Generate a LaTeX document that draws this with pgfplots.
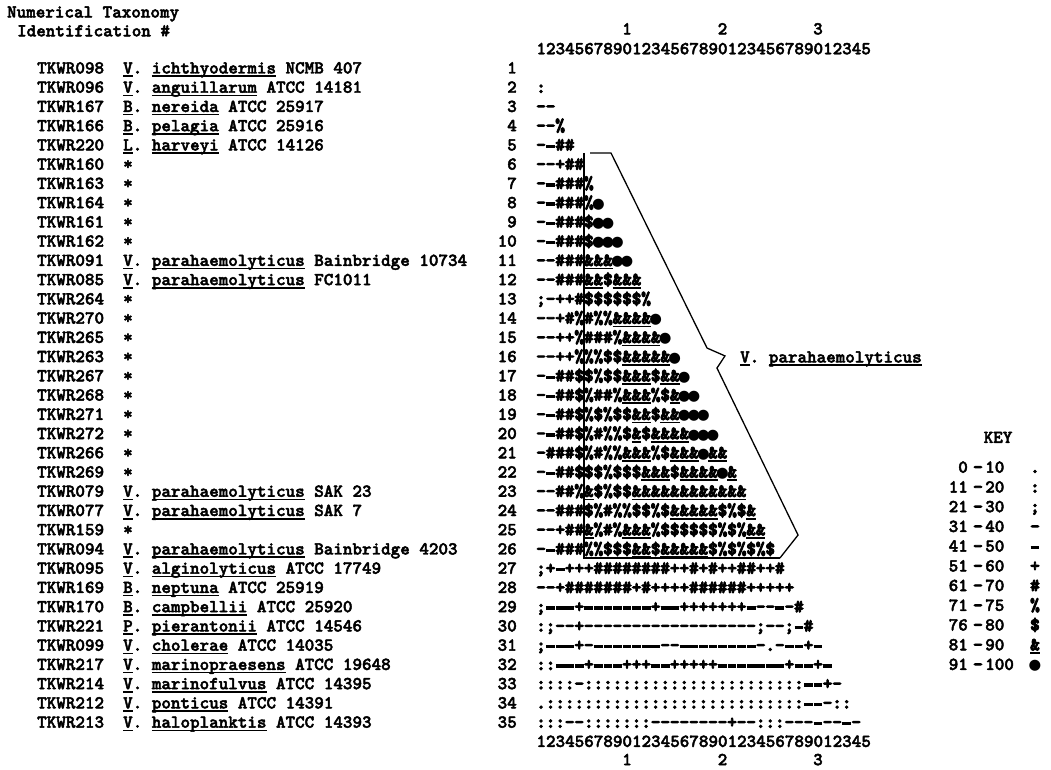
\documentclass[border=0pt]{standalone}
\usepackage{fontspec}
\usepackage{pgfplots}
\pgfplotsset{compat=1.18}
\newfontfamily\tw{lmmonolt10-bold.otf}[FakeBold=2.5]
\newfontfamily\twk{lmmonolt10-bold.otf}[FakeBold=5]
\newfontfamily\dv{DejaVu Sans}
\newcommand\twsize{\fontsize{18.2}{20}\selectfont}

\newlength\ulw
\newcommand\ul[1]{\settowidth\ulw{#1}\rlap{\rule[-3.5pt]{\ulw}{1.6pt}}#1}

% similarity classes: p . | c : | s ; | d - | e = | t + | g # | h % | i $ | a & | o blob
\def\symp{.}\def\symc{:}\def\syms{;}\def\symd{-}
\def\syme{\rule[2.4pt]{8.8pt}{3.4pt}}
\def\symt{+}\def\symg{\#}\def\symh{\%}\def\symi{\$}
\def\syma{\ul{\&}}
\def\symo{{\dv\fontsize{14.5}{14.5}\selectfont ●}}

\pgfplotsset{mtx/.style={black, draw=none, mark=none, forget plot,
    point meta=explicit symbolic,
    nodes near coords={\csname sym\pgfplotspointmeta\endcsname},
    every node near coord/.append style={anchor=base, inner sep=0pt,
      outer sep=0pt, text=black, font=\twk\twsize}}}

% one matrix row: #1 row number, #2 class codes for columns 1,2,...
\newcount\cc \newcount\rr
\def\mrow#1#2{\rr=#1\relax\cc=0\relax\def\clist{}\mparse#2\relax
  \edef\mtmp{\noexpand\addplot[mtx] coordinates {\clist};}\mtmp}
\def\mparse#1{\ifx#1\relax\else\advance\cc by 1\relax
  \edef\clist{\clist(\the\cc,\the\rr)[#1]}\expandafter\mparse\fi}

\tikzset{lt/.style={anchor=base west, inner sep=0pt, font=\tw\twsize}}
\newcommand\lab[2]{\node[lt] at (axis cs:-51.78,#1) {#2};}
\newcommand\keyline[4]{%
  \node[lt, anchor=base east] at (axis cs:45.71,#1) {#2};
  \node[lt, anchor=base, font=\twk\twsize] at (axis cs:46.75,#1) {-};
  \node[lt] at (axis cs:47.49,#1) {#3};
  \node[lt, anchor=base, font=\twk\twsize] at (axis cs:52.72,#1) {\csname sym#4\endcsname};}

\begin{document}
\begin{tikzpicture}
\begin{axis}[
    width=1051pt, height=770pt, scale only axis,
    xmin=-55.654, xmax=54.398,
    ymin=-2.82, ymax=37.2, y dir=reverse,
    hide axis, clip=false,
  ]
\mrow{2}{c}
\mrow{3}{dd}
\mrow{4}{ddh}
\mrow{5}{degg}
\mrow{6}{ddtgg}
\mrow{7}{degggh}
\mrow{8}{degggho}
\mrow{9}{degggioo}
\mrow{10}{degggiooo}
\mrow{11}{ddgggaaaoo}
\mrow{12}{ddgggaaiaaa}
\mrow{13}{sdttgiiiiiih}
\mrow{14}{ddtghghhaaaao}
\mrow{15}{ddtthggghaaaao}
\mrow{16}{ddtthhhiiaaaaao}
\mrow{17}{deggiihiiaaaiaao}
\mrow{18}{deggihgghaaahiaoo}
\mrow{19}{deggihihiiaaiaaooo}
\mrow{20}{deggihghhiaiaaaaooo}
\mrow{21}{dgggihghhaaahiaaaoaa}
\mrow{22}{deggiiihiiiaaaiaaaaoa}
\mrow{23}{ddgghaihii aaaaaa aaaaaa}
\mrow{24}{ddgggihghhiihiaaaaaihia}
\mrow{25}{ddtggahghaaahiiiiiihihaa}
\mrow{26}{deggghhiiiaaiaaaaaihihihi}
\mrow{27}{stettt gggggggg ttgtgttggttg}
\mrow{28}{ddt ggggggg tg tttt gggggg ttttt}
\mrow{29}{s eee t eeeeeee t ee ttttttt e dd e d g}
\mrow{30}{csddt dddddd dddddd dddddd sddseg}
\mrow{31}{seeetd eeeeeee dd eeeeeeee dpd ee t e}
\mrow{32}{cc eee t eee ttt ee ttttt eeeeeee t ee t e}
\mrow{33}{ccccd cccccccccc cccccccccc ccc eetd}
\mrow{34}{p cccccccccc cccccccccc ccccccc eedcc}
\mrow{35}{cccdd ccccccc ddddddddtdd ccc ddd edded}

% box and bracket round the V. parahaemolyticus cluster
\draw[line width=1.5pt] (axis cs:5.5,5.132) -- (axis cs:5.5,26.18) -- (axis cs:26.02,26.18);
\draw[line width=1.3pt] (axis cs:6.126,5.132) -- (axis cs:8.325,5.132)
  -- (axis cs:18.38,15.27) -- (axis cs:20.26,15.68) -- (axis cs:19.42,16.31)
  -- (axis cs:27.91,24.99) -- (axis cs:26.02,26.18);
\node[lt] at (axis cs:21.83,16.02) {\ul{V}.~\ul{parahaemolyticus}};

% titles and column numbers
\node[lt] at (axis cs:-54.93,-1.91) {Numerical Taxonomy};
\node[lt] at (axis cs:-53.88,-0.93) {Identification \#};
\node[lt] at (axis cs:0.5,0) {12345678901234567890123456789012345};
\node[lt] at (axis cs:0.5,36.0) {12345678901234567890123456789012345};
\node[lt, anchor=base] at (axis cs:10,-1.03) {1};
\node[lt, anchor=base] at (axis cs:20,-1.03) {2};
\node[lt, anchor=base] at (axis cs:30,-1.03) {3};
\node[lt, anchor=base] at (axis cs:10,36.95) {1};
\node[lt, anchor=base] at (axis cs:20,36.95) {2};
\node[lt, anchor=base] at (axis cs:30,36.95) {3};
\pgfplotsinvokeforeach{1,...,35}{\node[lt, anchor=base east] at (axis cs:-1.52,#1) {#1};}

% strain labels
\lab{1}{TKWR098~~\ul{V}.~\ul{ichthyodermis}~NCMB~407}
\lab{2}{TKWR096~~\ul{V}.~\ul{anguillarum}~ATCC~14181}
\lab{3}{TKWR167~~\ul{B}.~\ul{nereida}~ATCC~25917}
\lab{4}{TKWR166~~\ul{B}.~\ul{pelagia}~ATCC~25916}
\lab{5}{TKWR220~~\ul{L}.~\ul{harveyi}~ATCC~14126}
\lab{6}{TKWR160~~*}
\lab{7}{TKWR163~~*}
\lab{8}{TKWR164~~*}
\lab{9}{TKWR161~~*}
\lab{10}{TKWR162~~*}
\lab{11}{TKWR091~~\ul{V}.~\ul{parahaemolyticus}~Bainbridge~10734}
\lab{12}{TKWR085~~\ul{V}.~\ul{parahaemolyticus}~FC1011}
\lab{13}{TKWR264~~*}
\lab{14}{TKWR270~~*}
\lab{15}{TKWR265~~*}
\lab{16}{TKWR263~~*}
\lab{17}{TKWR267~~*}
\lab{18}{TKWR268~~*}
\lab{19}{TKWR271~~*}
\lab{20}{TKWR272~~*}
\lab{21}{TKWR266~~*}
\lab{22}{TKWR269~~*}
\lab{23}{TKWR079~~\ul{V}.~\ul{parahaemolyticus}~SAK~23}
\lab{24}{TKWR077~~\ul{V}.~\ul{parahaemolyticus}~SAK~7}
\lab{25}{TKWR159~~*}
\lab{26}{TKWR094~~\ul{V}.~\ul{parahaemolyticus}~Bainbridge~4203}
\lab{27}{TKWR095~~\ul{V}.~\ul{alginolyticus}~ATCC~17749}
\lab{28}{TKWR169~~\ul{B}.~\ul{neptuna}~ATCC~25919}
\lab{29}{TKWR170~~\ul{B}.~\ul{campbellii}~ATCC~25920}
\lab{30}{TKWR221~~\ul{P}.~\ul{pierantonii}~ATCC~14546}
\lab{31}{TKWR099~~\ul{V}.~\ul{cholerae}~ATCC~14035}
\lab{32}{TKWR217~~\ul{V}.~\ul{marinopraesens}~ATCC~19648}
\lab{33}{TKWR214~~\ul{V}.~\ul{marinofulvus}~ATCC~14395}
\lab{34}{TKWR212~~\ul{V}.~\ul{ponticus}~ATCC~14391}
\lab{35}{TKWR213~~\ul{V}.~\ul{haloplanktis}~ATCC~14393}

% key
\node[lt, anchor=base] at (axis cs:48.85,20.2) {KEY};
\keyline{21.75}{0}{10}{p}
\keyline{22.78}{11}{20}{c}
\keyline{23.80}{21}{30}{s}
\keyline{24.83}{31}{40}{d}
\keyline{25.85}{41}{50}{e}
\keyline{26.88}{51}{60}{t}
\keyline{27.90}{61}{70}{g}
\keyline{28.93}{71}{75}{h}
\keyline{29.95}{76}{80}{i}
\keyline{30.98}{81}{90}{a}
\keyline{32.00}{91}{100}{o}

\coordinate (bl) at (rel axis cs:0,0);
\coordinate (tr) at (rel axis cs:1,1);
\end{axis}
\pgfresetboundingbox
\useasboundingbox (bl) rectangle (tr);
\end{tikzpicture}
\end{document}
